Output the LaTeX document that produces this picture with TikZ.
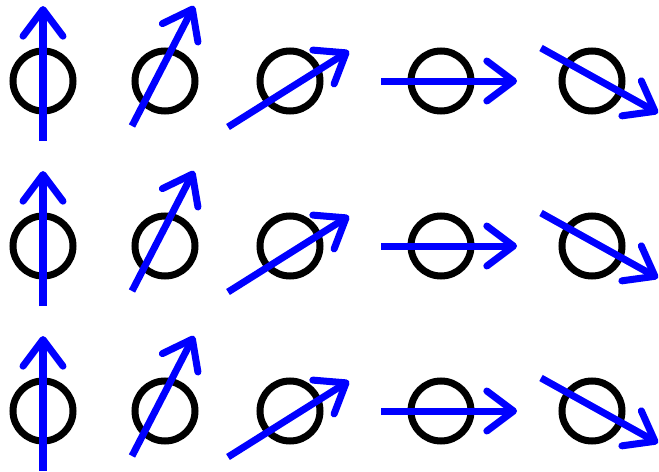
\documentclass[tikz,border=0pt]{standalone}
\usetikzlibrary{arrows.meta}
\tikzset{
  ring/.style={circle, draw=black, line width=0.21cm, minimum size=1.8cm, inner sep=0pt},
  spin/.style={blue, line width=0.21cm, -{Straight Barb[round, length=0.8cm, width=1.2cm]}},
}
\begin{document}
\begin{tikzpicture}[x=0.03cm, y=-0.03cm]
    \useasboundingbox (0,0) rectangle (659,472);
    \foreach \r/\y in {1/81, 2/246, 3/411} {
        % Rings
        \node[ring] (c1-\r) at (43,\y) {};
        \node[ring] (c2-\r) at (165,\y) {};
        \node[ring] (c3-\r) at (290,\y) {};
        \node[ring] (c4-\r) at (441,\y) {};
        \node[ring] (c5-\r) at (592,\y) {};
        % Spins
        \draw[spin] ([shift={(0,60)}]c1-\r.center) -- ([shift={(0,-75)}]c1-\r.center);
        \draw[spin] ([shift={(-33,45)}]c2-\r.center) -- ([shift={(29,-75)}]c2-\r.center);
        \draw[spin] ([shift={(-62,46)}]c3-\r.center) -- ([shift={(59,-30)}]c3-\r.center);
        \draw[spin] ([shift={(-60,0)}]c4-\r.center) -- ([shift={(76,0)}]c4-\r.center);
        \draw[spin] ([shift={(-51,-33)}]c5-\r.center) -- ([shift={(66,32)}]c5-\r.center);
    }
\end{tikzpicture}
\end{document}
